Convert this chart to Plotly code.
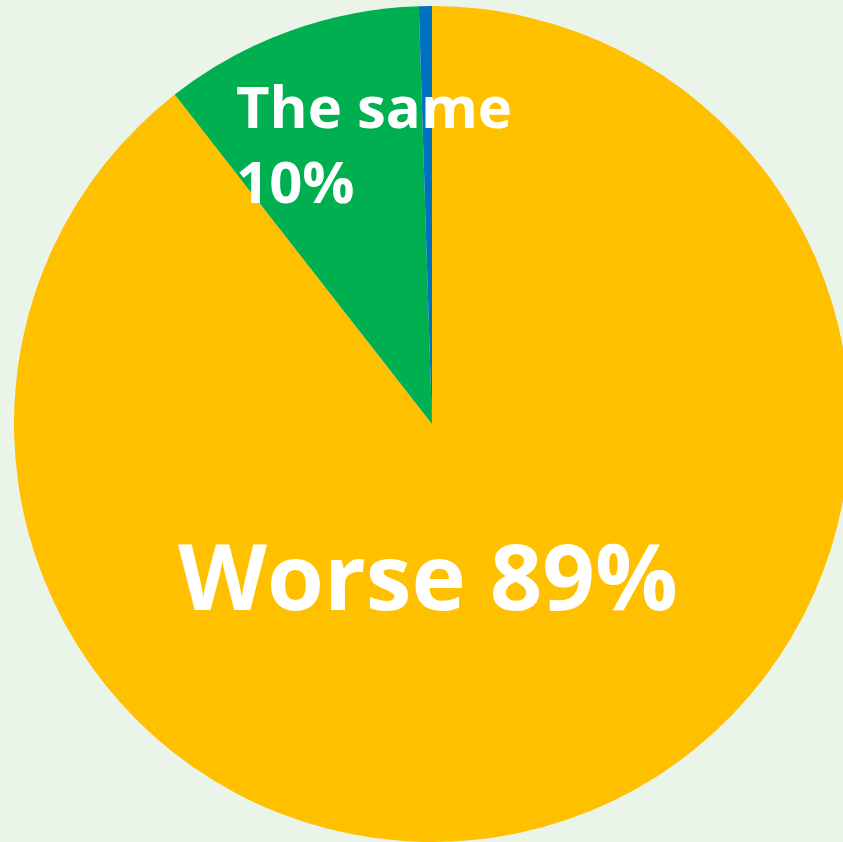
import plotly.graph_objects as go

# Survey answers, clockwise from 12 o'clock
labels = ["Worse", "The same", "Better"]
values = [89, 10, 0.5]
colors = ["#FFC000", "#00B050", "#0070C0"]

W, H = 850, 842
BG = "#EBF4E9"

fig = go.Figure(
    go.Pie(
        labels=labels,
        values=values,
        sort=False,
        direction="clockwise",
        rotation=0,
        marker=dict(colors=colors, line=dict(width=0)),
        textinfo="none",
        hoverinfo="label+percent",
        showlegend=False,
        domain=dict(x=[14 / W, 1], y=[0, 836 / H]),
    )
)

font_face = "Open Sans"


def label(text, px, py, size, xanchor):
    fig.add_annotation(
        text=f"<b>{text}</b>",
        x=px / W, y=1 - py / H, xref="paper", yref="paper",
        xanchor=xanchor, yanchor="middle", showarrow=False,
        font=dict(family=font_face, size=size, color="white"),
    )


label("The same", 234, 106, 58, "left")
label("10%", 234, 180, 58, "left")
label("Worse 89%", 428, 574, 92, "center")

fig.update_layout(
    width=W, height=H,
    margin=dict(l=0, r=0, t=0, b=0),
    paper_bgcolor=BG, plot_bgcolor=BG,
)

fig.write_html(
    "out.html",
    post_script="document.documentElement.style.overflow='hidden';document.body.style.overflow='hidden';document.body.style.margin='0';",
)
